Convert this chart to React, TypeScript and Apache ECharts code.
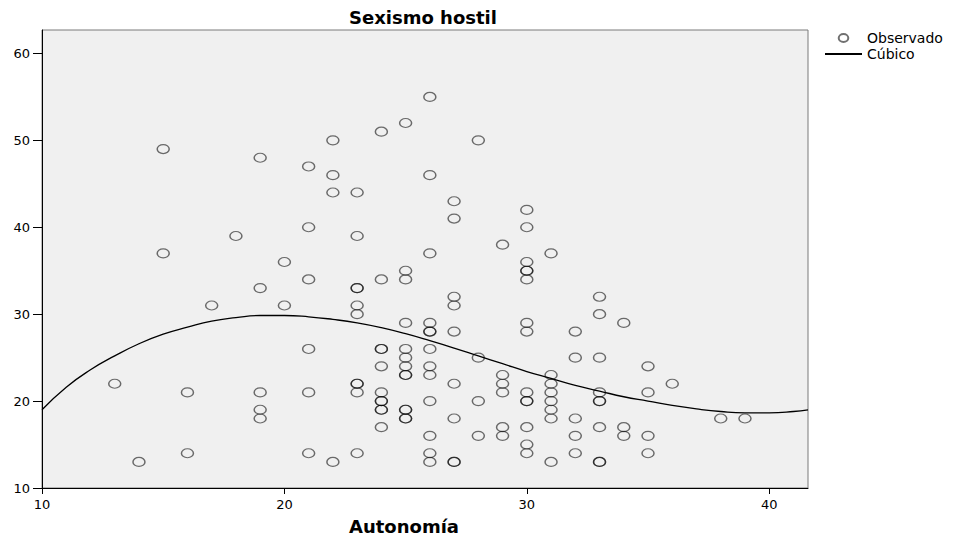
import React, { useEffect, useRef } from 'react';
import * as echarts from 'echarts';

// Observed values: Autonomía levels and the Sexismo hostil scores at each level
const autonomiaLevels = [13, 14, 15, 16, 17, 18, 19, 20, 21, 22, 23, 24, 25, 26, 27, 28, 29, 30, 31, 32, 33, 34, 35, 36, 38, 39];
const sexismoObservado = [
  [22],
  [13],
  [49, 37],
  [21, 14],
  [31],
  [39],
  [48, 33, 21, 19, 18],
  [36, 31],
  [47, 40, 34, 26, 21, 14],
  [50, 46, 44, 13],
  [44, 39, 33, 33, 31, 30, 22, 22, 21, 14],
  [51, 34, 26, 26, 24, 21, 20, 20, 19, 19, 17],
  [52, 35, 34, 29, 26, 25, 24, 23, 23, 19, 19, 18, 18],
  [55, 46, 37, 29, 28, 28, 26, 24, 23, 20, 16, 14, 13],
  [43, 41, 32, 31, 28, 22, 18, 13, 13],
  [50, 25, 20, 16],
  [38, 23, 22, 21, 17, 16],
  [42, 40, 36, 35, 35, 34, 29, 28, 21, 20, 20, 17, 15, 14],
  [37, 23, 22, 21, 20, 19, 18, 13],
  [28, 25, 18, 16, 14],
  [32, 30, 25, 21, 20, 20, 17, 13, 13],
  [29, 17, 16],
  [24, 21, 16, 14],
  [22],
  [18],
  [18],
];

// Cubic fit line
const cubicX = [10, 11, 12, 13, 14, 15, 16, 17, 18, 19, 20, 21, 22, 23, 24, 25, 26, 27, 28, 29, 30, 31, 32, 33, 34, 35, 36, 37, 38, 39, 40, 41, 41.6];
const cubicY = [19.0, 21.6, 23.6, 25.2, 26.6, 27.7, 28.5, 29.2, 29.6, 29.85, 29.85, 29.7, 29.4, 29.0, 28.45, 27.75, 26.95, 26.1, 25.2, 24.3, 23.4, 22.6, 21.8, 21.15, 20.5, 20.0, 19.5, 19.1, 18.8, 18.65, 18.65, 18.8, 19.0];

const xRange = { min: 10, max: 41.6, interval: 10 };
const yRange = { min: 10, max: 62.7, interval: 10 };

const FONT = 'DejaVu Sans';
const ELLIPSE = 'path://M0,5A6,5,0,1,1,12,5A6,5,0,1,1,0,5Z';

export default function App() {
  const ref = useRef<HTMLDivElement>(null);

  useEffect(() => {
    document.body.style.margin = '0';
    const chart = echarts.init(ref.current!, null, { renderer: 'svg' });

    const scatterData: number[][] = [];
    autonomiaLevels.forEach((x, i) => {
      sexismoObservado[i].forEach((y) => scatterData.push([x, y]));
    });
    const lineData = cubicX.map((x, i) => [x, cubicY[i]]);

    chart.setOption({
      animation: false,
      backgroundColor: '#ffffff',
      grid: {
        left: 42,
        top: 30,
        width: 766,
        height: 458,
        show: true,
        backgroundColor: '#f0f0f0',
        borderColor: '#7a7a7a',
        borderWidth: 1,
      },
      xAxis: {
        type: 'value',
        min: xRange.min,
        max: xRange.max,
        interval: xRange.interval,
        splitLine: { show: false },
        axisLine: { show: true, onZero: false, lineStyle: { color: '#000', width: 1 } },
        axisTick: { show: true, length: 6, lineStyle: { color: '#000' } },
        axisLabel: {
          color: '#000',
          fontFamily: FONT,
          fontSize: 13,
          margin: 10,
          showMaxLabel: false,
          formatter: (v: number) => (v % 10 === 0 ? String(v) : ''),
        },
      },
      yAxis: {
        type: 'value',
        min: yRange.min,
        max: yRange.max,
        interval: yRange.interval,
        splitLine: { show: false },
        axisLine: { show: true, onZero: false, lineStyle: { color: '#000', width: 1 } },
        axisTick: { show: true, length: 9, lineStyle: { color: '#000' } },
        axisLabel: {
          color: '#000',
          fontFamily: FONT,
          fontSize: 13,
          margin: 12,
          showMaxLabel: false,
          formatter: (v: number) => (v % 10 === 0 ? String(v) : ''),
        },
      },
      legend: {
        orient: 'vertical',
        left: 824,
        top: 31,
        padding: 0,
        itemWidth: 37,
        itemHeight: 8,
        itemGap: 2,
        symbolKeepAspect: true,
        textStyle: { fontFamily: FONT, fontSize: 14, color: '#000' },
        data: [
          { name: 'Observado', icon: ELLIPSE },
          { name: 'Cúbico' },
        ],
      },
      graphic: [
        {
          type: 'text',
          x: 423,
          y: 17,
          style: {
            text: 'Sexismo hostil',
            fontFamily: FONT,
            fontSize: 18,
            fontWeight: 'bold',
            fill: '#000',
            align: 'center',
            verticalAlign: 'middle',
          },
        },
        {
          type: 'text',
          x: 404,
          y: 526,
          style: {
            text: 'Autonomía',
            fontFamily: FONT,
            fontSize: 18,
            fontWeight: 'bold',
            fill: '#000',
            align: 'center',
            verticalAlign: 'middle',
          },
        },
      ],
      series: [
        {
          name: 'Observado',
          type: 'scatter',
          data: scatterData,
          symbol: ELLIPSE,
          symbolSize: [12, 9],
          itemStyle: {
            color: 'rgba(0,0,0,0)',
            borderColor: 'rgba(0,0,0,0.7)',
            borderWidth: 1.3,
          },
          z: 3,
        },
        {
          name: 'Cúbico',
          type: 'line',
          data: lineData,
          smooth: true,
          symbol: 'none',
          showSymbol: false,
          lineStyle: { color: '#000', width: 1.3 },
          itemStyle: { color: 'rgba(0,0,0,0)', borderWidth: 0, borderColor: 'rgba(0,0,0,0)' },
          z: 2,
        },
      ],
    });

    return () => chart.dispose();
  }, []);

  return <div ref={ref} style={{ width: 962, height: 537 }} />;
}
